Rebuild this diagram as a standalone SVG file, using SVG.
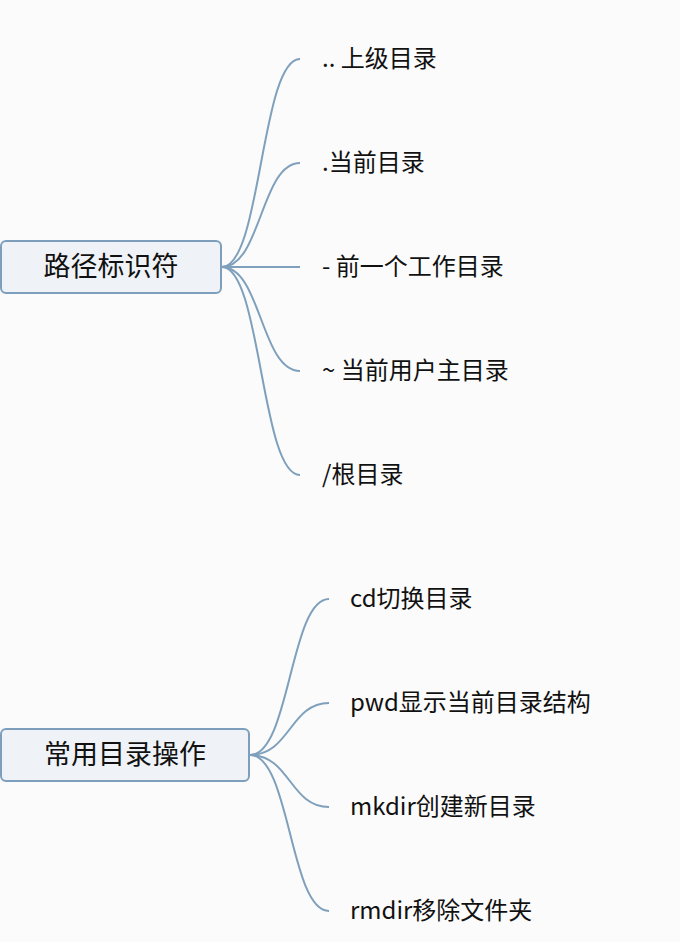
<svg xmlns="http://www.w3.org/2000/svg" width="680" height="942" viewBox="0 0 680 942">
<style>
.bg{fill:#fbfbfb}
.root rect{fill:#eff3f7;stroke:#7d9fbc;stroke-width:2}
.root text{font-family:"Noto Sans CJK SC","Noto Sans",sans-serif;font-size:27px;fill:#111;text-anchor:middle}
.leaf text{font-family:"Noto Sans CJK SC","Noto Sans",sans-serif;font-size:24px;fill:#111}
.conn path{fill:none;stroke:#7fa0bc;stroke-width:2}
</style>
<rect class="bg" x="0" y="0" width="680" height="942"/>
<g id="connectors" class="conn">
<path d="M222,267 C261,267 261,59 300,59"/>
<path d="M222,267 C261,267 261,163 300,163"/>
<path d="M222,267 L300,267"/>
<path d="M222,267 C261,267 261,371 300,371"/>
<path d="M222,267 C261,267 261,475 300,475"/>
<path d="M250,755 C290,755 290,599 329,599"/>
<path d="M250,755 C290,755 290,703 329,703"/>
<path d="M250,755 C290,755 290,807 329,807"/>
<path d="M250,755 C290,755 290,911 329,911"/>
</g>
<g id="node-path-identifiers" class="root">
<rect x="1" y="241" width="220" height="52" rx="5"/>
<text x="111" y="276">路径标识符</text>
</g>
<g id="node-parent" class="leaf"><text x="322" y="67">.. 上级目录</text></g>
<g id="node-current" class="leaf"><text x="322" y="171">.当前目录</text></g>
<g id="node-previous" class="leaf"><text x="322" y="275">- 前一个工作目录</text></g>
<g id="node-home" class="leaf"><text x="322" y="379">~ 当前用户主目录</text></g>
<g id="node-root-dir" class="leaf"><text x="322" y="483">/根目录</text></g>
<g id="node-common-ops" class="root">
<rect x="1" y="729" width="248" height="52" rx="5"/>
<text x="125" y="764">常用目录操作</text>
</g>
<g id="node-cd" class="leaf"><text x="350" y="607">cd切换目录</text></g>
<g id="node-pwd" class="leaf"><text x="350" y="711">pwd显示当前目录结构</text></g>
<g id="node-mkdir" class="leaf"><text x="350" y="815">mkdir创建新目录</text></g>
<g id="node-rmdir" class="leaf"><text x="350" y="919">rmdir移除文件夹</text></g>
</svg>
